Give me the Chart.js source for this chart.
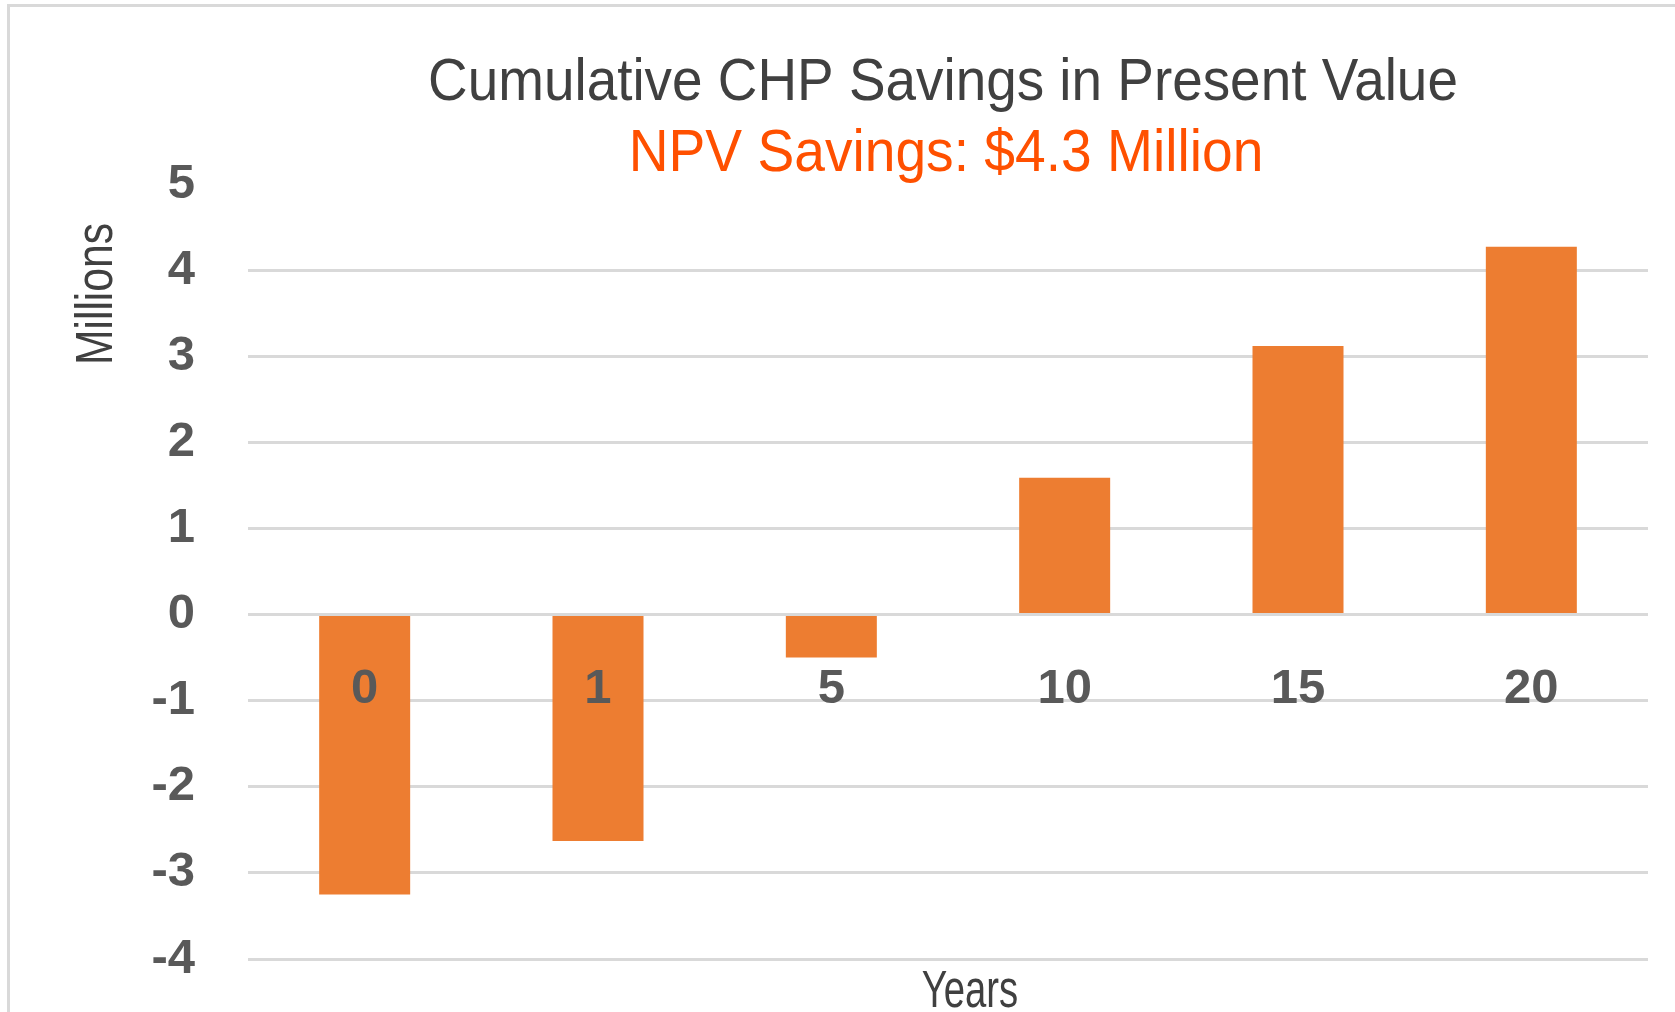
<!DOCTYPE html>
<html>
<head>
<meta charset="utf-8">
<script src="https://cdn.jsdelivr.net/npm/chart.js@4/dist/chart.umd.min.js"></script>
<style>
    html, body { margin: 0; padding: 0; background: #fff; overflow: hidden; }
    #wrap { position: relative; width: 1675px; height: 1012px; }
    #frame {
        position: absolute; left: 7px; top: 4px; width: 2000px; height: 2000px;
        border-top: 3px solid #d9d9d9; border-left: 3px solid #d9d9d9;
    }
    #savings { position: absolute; left: 0; top: 0; }
</style>
</head>
<body>
<div id="wrap">
    <div id="frame"></div>
    <canvas id="savings" width="1675" height="1012"></canvas>
</div>
<script>
const years = ["0", "1", "5", "10", "15", "20"];
const savings = [-3.25, -2.63, -0.5, 1.59, 3.12, 4.27];
const yTicks = [-4, -3, -2, -1, 0, 1, 2, 3, 4, 5];

const chartTitle = "Cumulative CHP Savings in Present Value";
const chartSubtitle = "NPV Savings: $4.3 Million";
const yTitle = "Millions";
const xTitle = "Years";

const sans = '"Liberation Sans", Arial, sans-serif';
const tickFont = { family: sans, size: 49, weight: "bold", lineHeight: 1.2 };

// the original headings use a condensed face, so they are squeezed sideways
function condensedText(ctx, text, x, y, size, squeeze, color, angle) {
    ctx.save();
    ctx.translate(x, y);
    ctx.rotate(angle || 0);
    ctx.scale(squeeze, 1);
    ctx.font = size + "px " + sans;
    ctx.fillStyle = color;
    ctx.textAlign = "center";
    ctx.textBaseline = "alphabetic";
    ctx.fillText(text, 0, 0);
    ctx.restore();
}

const headingsPlugin = {
    id: "headings",
    afterDraw(chart) {
        const ctx = chart.ctx;
        condensedText(ctx, chartTitle, 943, 100, 59, 0.93, "#404040");
        condensedText(ctx, chartSubtitle, 946, 171, 59, 0.935, "#FF5000");
        condensedText(ctx, yTitle, 112, 294, 52, 0.82, "#404040", -Math.PI / 2);
        condensedText(ctx, xTitle, 970, 1007, 51, 0.75, "#404040");
    },
};

new Chart(document.getElementById("savings"), {
    type: "bar",
    data: {
        labels: years,
        datasets: [
            {
                label: "Cumulative savings",
                data: savings,
                backgroundColor: "#ED7D31",
                barPercentage: 0.39,
                categoryPercentage: 1,
            },
        ],
    },
    plugins: [headingsPlugin],
    options: {
        responsive: false,
        animation: false,
        layout: { padding: { left: 0, right: 27, top: 184, bottom: 53 } },
        plugins: {
            legend: { display: false },
            tooltip: { enabled: false },
        },
        scales: {
            x: {
                position: { y: 0 },
                offset: true,
                grid: { display: false, drawTicks: false },
                border: { display: false },
                // labels sit on top of the bars, like the original
                ticks: { color: "#595959", font: tickFont, padding: 46, maxRotation: 0, z: 1 },
                afterFit: (s) => { s.height = 0; },
            },
            y: {
                min: -4,
                max: 5,
                afterBuildTicks: (s) => { s.ticks = yTicks.map((v) => ({ value: v })); },
                grid: {
                    color: (c) => (c.tick && c.tick.value === 5 ? "rgba(0,0,0,0)" : "#d9d9d9"),
                    lineWidth: 3,
                    drawTicks: false,
                },
                border: { display: false },
                ticks: { color: "#595959", font: tickFont, padding: 53 },
                afterFit: (s) => {
                    s.width = 248;
                    s.paddingTop = 0;
                    s.paddingBottom = 0;
                },
            },
        },
    },
});
</script>
</body>
</html>
